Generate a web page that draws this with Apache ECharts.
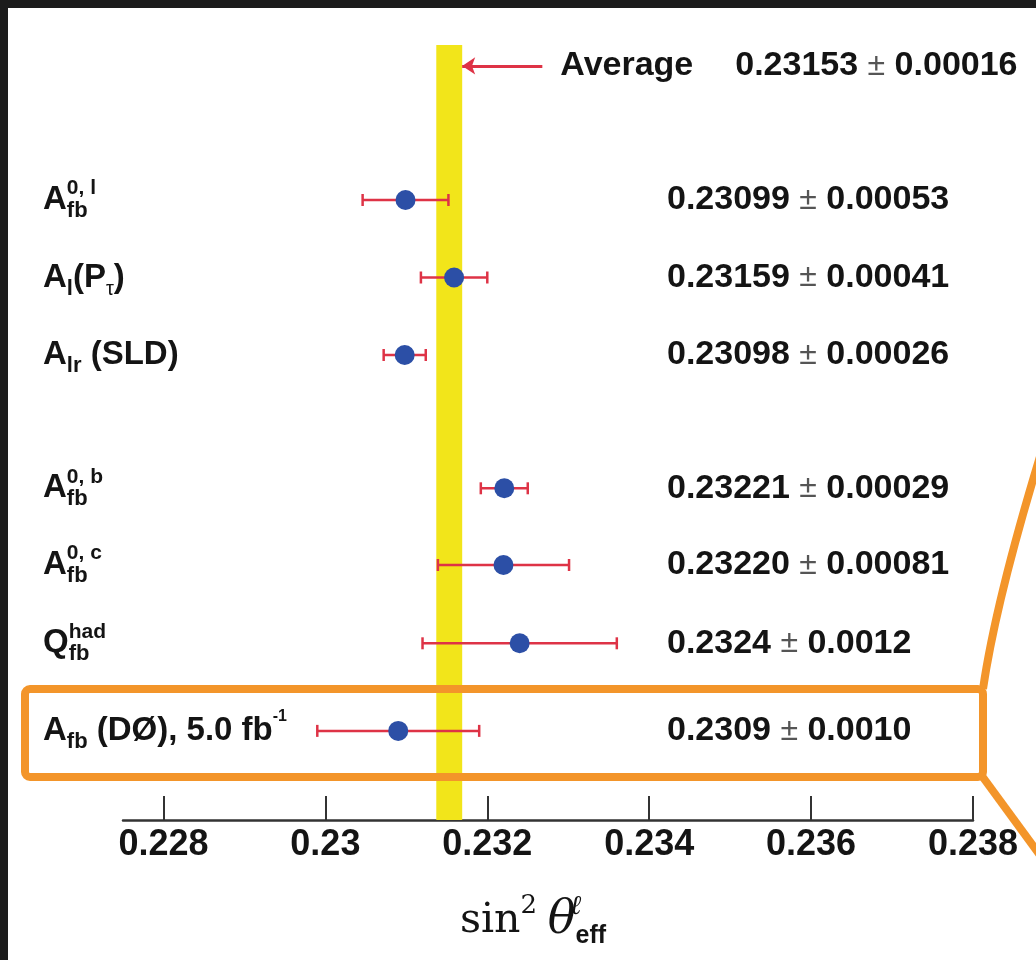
<!DOCTYPE html>
<html>
<head>
<meta charset="utf-8">
<script src="https://cdn.jsdelivr.net/npm/echarts@6/dist/echarts.min.js"></script>
<style>
  html, body { margin: 0; padding: 0; background: #ffffff; }
  #chart { width: 1036px; height: 960px; }
</style>
</head>
<body>
<div id="chart"></div>
<script>
// Measurements of the effective leptonic weak mixing angle, sin^2(theta_eff)
const measurements = [
  '{m|A}{sp|0, l}{sb|fb}',
  '{m|A}{sb|l}{m|(P}{tau|τ}{m|)}',
  '{m|A}{sb|lr}{m| (SLD)}',
  '{m|A}{sp|0, b}{sb|fb}',
  '{m|A}{sp|0, c}{sb|fb}',
  '{m|Q}{sp|had}{sb|fb}',
  '{m|A}{sb|fb}{m| (DØ), 5.0 fb}{ex|-1}'
];
const centralValues = [0.23099, 0.23159, 0.23098, 0.23221, 0.23220, 0.2324, 0.2309];
const uncertainties = [0.00053, 0.00041, 0.00026, 0.00029, 0.00081, 0.0012, 0.0010];
const decimals = [5, 5, 5, 5, 5, 4, 4];
// vertical slot of each row (rows are grouped, with gaps between groups)
const rowSlots = [2, 3, 4, 5.72, 6.71, 7.72, 8.85];

const average = 0.23153;
const averageError = 0.00016;
const averageDecimals = 5;
const averageSlot = 0.27;
const arrowTail = 0.23268;

const xTicks = [0.228, 0.230, 0.232, 0.234, 0.236, 0.238];

const SANS = '"Liberation Sans", Arial, Helvetica, sans-serif';
const SERIF = '"DejaVu Serif", "Liberation Serif", serif';
const INK = '#141414';
const RED = '#de3346';
const BLUE = '#2c4fa6';
const YELLOW = '#f2e51a';
const ORANGE = '#f3952a';

function slotIndex(v) {
  let best = 0;
  rowSlots.forEach((s, i) => { if (Math.abs(s - v) < Math.abs(rowSlots[best] - v)) best = i; });
  return best;
}

const fmtPair = (v, e, d) => v.toFixed(d) + ' {pm|±} ' + e.toFixed(d);

const chart = echarts.init(document.getElementById('chart'), null, { renderer: 'canvas' });

chart.setOption({
  animation: false,
  backgroundColor: '#ffffff',
  grid: { left: 123, right: 63, top: 45, bottom: 140, containLabel: false },
  xAxis: {
    type: 'value',
    position: 'bottom',
    min: 0.2275,
    max: 0.238,
    splitLine: { show: false },
    axisLine: { show: true, onZero: false, lineStyle: { color: '#333333', width: 2.5 } },
    axisTick: {
      show: true, inside: true, length: 24,
      customValues: xTicks,
      lineStyle: { color: '#333333', width: 2 }
    },
    axisLabel: {
      customValues: xTicks,
      formatter: v => String(+v.toFixed(3)),
      fontFamily: SANS, fontWeight: 'bold', fontSize: 36, color: INK,
      margin: 7
    },
    name: '{s|sin}{p|2}{g| }{t|θ}{l|ℓ}{e|eff}',
    nameLocation: 'middle',
    nameGap: 73,
    nameTextStyle: {
      color: INK,
      rich: {
        s: { fontFamily: SERIF, fontSize: 41, color: INK, lineHeight: 56 },
        p: { fontFamily: SERIF, fontSize: 26, color: INK, verticalAlign: 'top', lineHeight: 30 },
        g: { fontFamily: SERIF, fontSize: 34, lineHeight: 56 },
        t: { fontFamily: SERIF, fontStyle: 'italic', fontSize: 46, color: INK, lineHeight: 56 },
        l: { fontFamily: SERIF, fontStyle: 'italic', fontSize: 27, color: INK, verticalAlign: 'top', lineHeight: 26, width: 0, align: 'left' },
        e: { fontFamily: SANS, fontWeight: 'bold', fontSize: 25, color: INK, verticalAlign: 'bottom', lineHeight: 22, padding: [0, 30, 0, 0] }
      }
    }
  },
  yAxis: [
    {
      type: 'value',
      min: 0, max: 10,
      inverse: true,
      splitLine: { show: false },
      axisLine: { show: false },
      axisTick: { show: false },
      axisLabel: {
        customValues: rowSlots,
        formatter: v => measurements[slotIndex(v)],
        align: 'left',
        margin: 80,
        rich: {
          m: { fontFamily: SANS, fontWeight: 'bold', fontSize: 33, color: INK, lineHeight: 44 },
          sp: { fontFamily: SANS, fontWeight: 'bold', fontSize: 21, color: INK, verticalAlign: 'top', lineHeight: 20, width: 0, align: 'left' },
          sb: { fontFamily: SANS, fontWeight: 'bold', fontSize: 22, color: INK, verticalAlign: 'bottom', lineHeight: 14 },
          tau: { fontFamily: SANS, fontSize: 20, color: INK, verticalAlign: 'bottom', lineHeight: 14 },
          ex: { fontFamily: SANS, fontWeight: 'bold', fontSize: 16, color: INK, verticalAlign: 'top', lineHeight: 18 }
        }
      }
    },
    {
      type: 'value',
      position: 'right',
      min: 0, max: 10,
      inverse: true,
      splitLine: { show: false },
      axisLine: { show: false },
      axisTick: { show: false },
      axisLabel: {
        customValues: rowSlots,
        inside: true,
        align: 'left',
        margin: 306,
        formatter: v => { const i = slotIndex(v); return fmtPair(centralValues[i], uncertainties[i], decimals[i]); },
        fontFamily: SANS, fontWeight: 'bold', fontSize: 34, color: INK,
        rich: {
          pm: { fontFamily: SANS, fontWeight: 'normal', fontSize: 32, color: '#555555' }
        }
      }
    }
  ],
  series: [
    {
      // world average: shaded band and pointer
      type: 'line',
      data: [],
      z: 1,
      silent: true,
      markArea: {
        silent: true,
        itemStyle: { color: YELLOW },
        data: [[{ xAxis: average - averageError }, { xAxis: average + averageError }]]
      },
      markLine: {
        silent: true,
        symbol: ['none', 'arrow'],
        symbolSize: 13,
        lineStyle: { color: RED, width: 3, type: 'solid' },
        label: {
          show: true,
          position: 'start',
          distance: 18,
          formatter: '{a|Average}{v|' + average.toFixed(averageDecimals) + ' }{pm|±}{v| ' + averageError.toFixed(averageDecimals) + '}',
          rich: {
            a: { fontFamily: SANS, fontWeight: 'bold', fontSize: 34, color: INK, padding: [0, 42, 0, 0] },
            v: { fontFamily: SANS, fontWeight: 'bold', fontSize: 34, color: INK },
            pm: { fontFamily: SANS, fontWeight: 'normal', fontSize: 32, color: '#555555' }
          }
        },
        data: [[
          { coord: [arrowTail, averageSlot] },
          { coord: [average + averageError, averageSlot] }
        ]]
      }
    },
    {
      // horizontal error bars with end caps
      type: 'custom',
      z: 3,
      silent: true,
      encode: { x: 0, y: 1 },
      data: centralValues.map((v, i) => [v, rowSlots[i], uncertainties[i]]),
      renderItem: (params, api) => {
        const v = api.value(0), y = api.value(1), e = api.value(2);
        const a = api.coord([v - e, y]);
        const b = api.coord([v + e, y]);
        const h = 6;
        const style = { stroke: RED, lineWidth: 2.5 };
        return {
          type: 'group',
          children: [
            { type: 'line', shape: { x1: a[0], y1: a[1], x2: b[0], y2: b[1] }, style },
            { type: 'line', shape: { x1: a[0], y1: a[1] - h, x2: a[0], y2: a[1] + h }, style },
            { type: 'line', shape: { x1: b[0], y1: b[1] - h, x2: b[0], y2: b[1] + h }, style }
          ]
        };
      }
    },
    {
      // central values
      type: 'scatter',
      z: 4,
      silent: true,
      symbol: 'circle',
      symbolSize: 20,
      itemStyle: { color: BLUE, opacity: 1 },
      data: centralValues.map((v, i) => [v, rowSlots[i]])
    }
  ],
  graphic: [
    // dark surround along the top and left edges
    { type: 'rect', z: 100, shape: { x: 0, y: 0, width: 1036, height: 8 }, style: { fill: '#1c1c1c' } },
    { type: 'rect', z: 100, shape: { x: 0, y: 0, width: 8, height: 960 }, style: { fill: '#1c1c1c' } },
    // highlight around the DØ result, with call-out lines to the right
    {
      type: 'rect', z: 50,
      shape: { x: 25, y: 689, width: 958, height: 88, r: 5 },
      style: { fill: null, stroke: ORANGE, lineWidth: 8 }
    },
    {
      type: 'bezierCurve', z: 50,
      shape: { x1: 983, y1: 689, cpx1: 996, cpy1: 600, x2: 1042, y2: 450 },
      style: { fill: null, stroke: ORANGE, lineWidth: 8 }
    },
    {
      type: 'line', z: 50,
      shape: { x1: 982, y1: 776, x2: 1042, y2: 858 },
      style: { stroke: ORANGE, lineWidth: 8 }
    }
  ]
});
</script>
</body>
</html>
